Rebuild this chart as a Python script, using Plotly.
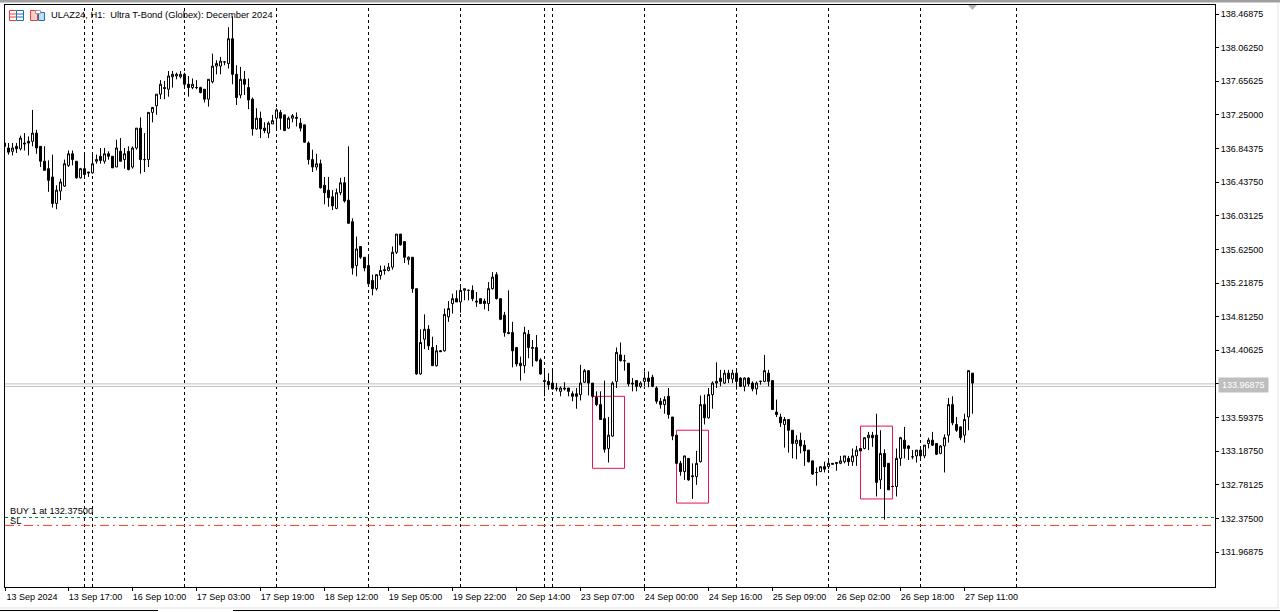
import plotly.graph_objects as go

W, H = 1280, 612
FONT = "Liberation Sans"
FS = 9

opens = [
136.91,136.85,136.81,136.87,136.84,136.91,136.93,136.93,137.03,136.87,
136.69,136.60,136.50,136.18,136.33,136.39,136.64,136.78,136.69,136.49,
136.60,136.56,136.55,136.69,136.75,136.69,136.78,136.75,136.62,136.81,
136.71,136.81,136.62,136.85,137.09,136.71,136.71,137.28,137.36,137.50,
137.58,137.56,137.71,137.72,137.71,137.74,137.62,137.58,137.58,137.58,
137.56,137.44,137.65,137.84,137.84,137.89,137.87,138.17,137.74,137.49,
137.68,137.58,137.44,137.08,137.21,137.09,137.03,137.14,137.21,137.28,
137.25,137.09,137.21,137.22,137.15,137.13,136.91,136.71,136.62,136.66,
136.40,136.34,136.26,136.12,136.31,136.43,136.22,135.96,135.43,135.66,
135.53,135.43,135.25,135.15,135.31,135.38,135.37,135.41,135.59,135.81,
135.72,135.50,135.53,135.15,134.12,134.54,134.66,134.44,134.22,134.40,
134.40,134.81,134.97,135.03,134.99,135.13,135.13,135.13,135.00,135.03,
135.00,134.97,135.15,135.32,135.03,134.83,134.62,134.62,134.44,134.25,
134.22,134.60,134.44,134.44,134.29,134.04,134.03,134.01,133.95,133.91,
133.95,133.95,133.88,133.88,133.87,134.02,134.16,134.01,133.84,133.75,
133.58,133.22,133.37,134.03,134.35,134.28,134.25,134.01,134.04,133.97,
134.03,134.07,134.08,133.95,133.79,133.75,133.85,133.60,133.38,133.04,
132.94,133.10,132.89,132.88,133.06,133.75,133.59,133.87,134.01,134.07,
134.01,134.13,134.06,134.13,134.07,133.97,134.07,134.01,133.94,134.03,
134.03,134.13,134.04,133.66,133.60,133.51,133.57,133.44,133.28,133.32,
133.26,133.20,133.07,132.93,132.94,133.00,133.00,133.04,133.05,133.04,
133.06,133.10,133.06,133.13,133.22,133.22,133.35,133.38,133.38,132.84,
133.16,133.04,132.76,132.76,133.10,133.32,133.25,133.12,133.13,133.20,
133.13,133.28,133.32,133.28,133.16,133.25,133.38,133.75,133.51,133.48,
133.38,133.60,134.13]

closes = [
136.87,136.80,136.85,136.84,136.97,136.90,136.91,137.03,136.85,136.69,
136.58,136.46,136.18,136.34,136.44,136.66,136.78,136.71,136.49,136.60,
136.53,136.55,136.66,136.71,136.70,136.78,136.75,136.61,136.85,136.69,
136.78,136.59,136.85,137.09,136.71,136.71,137.28,137.34,137.50,137.62,
137.57,137.72,137.74,137.74,137.74,137.62,137.58,137.62,137.58,137.52,
137.44,137.68,137.84,137.87,137.90,137.89,138.17,137.74,137.46,137.68,
137.62,137.43,137.08,137.21,137.08,137.06,137.15,137.18,137.31,137.21,
137.06,137.21,137.24,137.21,137.09,136.92,136.71,136.62,136.66,136.37,
136.31,136.25,136.15,136.31,136.43,136.21,135.94,135.40,135.63,135.53,
135.40,135.21,135.15,135.32,135.37,135.37,135.41,135.59,135.81,135.68,
135.53,135.53,135.15,134.12,134.50,134.66,134.46,134.22,134.40,134.39,
134.84,134.91,135.03,134.99,135.13,135.15,135.13,135.03,134.99,134.97,
134.97,135.15,135.29,135.03,134.78,134.62,134.61,134.40,134.24,134.22,
134.62,134.44,134.43,134.28,134.12,134.03,133.99,133.94,133.94,133.95,
133.94,133.91,133.85,133.85,134.01,134.16,134.01,133.85,133.75,133.57,
133.21,133.38,134.01,134.38,134.28,134.28,134.00,134.00,133.97,134.01,
134.07,134.03,133.97,133.79,133.75,133.81,133.63,133.37,133.04,132.94,
133.13,132.84,132.88,133.04,133.75,133.59,133.87,134.01,134.03,134.03,
134.13,134.06,134.13,134.03,133.97,134.07,134.00,133.94,134.01,134.03,
134.16,134.03,133.69,133.63,133.53,133.57,133.44,133.28,133.32,133.25,
133.19,133.06,132.91,132.93,133.00,132.97,133.04,133.03,133.04,133.07,
133.13,133.06,133.13,133.20,133.19,133.35,133.38,133.35,132.81,133.16,
133.00,132.72,132.76,133.10,133.35,133.22,133.22,133.12,133.20,133.13,
133.26,133.32,133.26,133.15,133.25,133.35,133.75,133.53,133.44,133.35,
133.57,134.16,134.01]

highs = [
136.91,136.91,136.91,136.91,137.00,137.03,136.99,137.31,137.07,136.87,
136.87,136.70,136.77,136.40,136.48,136.71,136.82,136.82,136.69,136.61,
136.78,136.56,136.78,136.77,136.85,136.85,136.81,136.75,136.95,136.97,
136.85,136.87,136.87,137.09,137.22,137.03,137.28,137.34,137.50,137.67,
137.66,137.78,137.78,137.76,137.78,137.76,137.72,137.69,137.67,137.59,
137.56,137.68,137.99,137.91,137.95,137.89,138.31,138.44,137.85,137.83,
137.78,137.69,137.46,137.33,137.29,137.16,137.17,137.25,137.33,137.31,
137.25,137.23,137.26,137.28,137.21,137.13,136.93,136.83,136.78,136.71,
136.50,136.50,136.34,136.36,136.49,136.50,136.87,136.00,135.78,135.66,
135.53,135.54,135.32,135.32,135.43,135.43,135.46,135.66,135.81,135.81,
135.72,135.54,135.53,135.15,134.66,134.84,134.71,134.57,134.47,134.41,
134.91,135.00,135.09,135.13,135.17,135.15,135.14,135.19,135.11,135.03,
135.03,135.23,135.35,135.35,135.03,134.87,135.13,134.75,134.44,134.33,
134.69,134.65,134.53,134.59,134.31,134.17,134.13,134.19,134.01,133.97,
134.02,133.95,133.91,133.95,134.23,134.18,134.16,134.01,133.91,133.91,
134.04,133.60,134.03,134.44,134.50,134.35,134.25,134.07,134.04,134.03,
134.15,134.15,134.11,133.97,133.83,133.85,133.95,133.60,133.38,133.07,
133.13,133.10,133.04,133.19,133.86,133.87,133.95,134.03,134.26,134.17,
134.17,134.17,134.17,134.17,134.08,134.08,134.08,134.03,134.03,134.04,
134.35,134.17,134.04,133.81,133.64,133.60,133.57,133.44,133.38,133.41,
133.32,133.20,133.07,132.99,133.00,133.06,133.10,133.04,133.05,133.13,
133.13,133.13,133.22,133.25,133.22,133.35,133.42,133.42,133.64,133.44,
133.21,133.04,132.77,133.22,133.36,133.48,133.26,133.20,133.20,133.22,
133.26,133.35,133.42,133.28,133.26,133.39,133.83,133.85,133.60,133.49,
133.64,134.16,134.13]

lows = [
136.86,136.77,136.76,136.79,136.82,136.82,136.76,136.87,136.78,136.62,
136.58,136.32,136.13,136.11,136.22,136.38,136.62,136.64,136.48,136.48,
136.50,136.50,136.54,136.66,136.66,136.66,136.71,136.61,136.62,136.69,
136.60,136.58,136.60,136.83,136.54,136.56,136.62,137.16,137.25,137.44,
137.44,137.47,137.58,137.68,137.69,137.58,137.47,137.56,137.56,137.51,
137.40,137.35,137.63,137.74,137.74,137.85,137.81,137.62,137.37,137.45,
137.49,137.32,137.00,137.07,136.97,137.03,136.97,137.14,137.09,137.07,
137.06,137.08,137.16,137.11,137.05,136.91,136.65,136.56,136.58,136.36,
136.17,136.14,136.10,136.11,136.28,136.19,135.94,135.32,135.30,135.51,
135.36,135.19,135.07,135.13,135.26,135.32,135.36,135.38,135.57,135.67,
135.46,135.44,135.10,134.11,134.11,134.42,134.41,134.22,134.21,134.39,
134.39,134.75,134.85,134.99,134.86,135.01,135.01,135.00,134.93,134.97,
134.90,134.88,135.14,135.02,134.77,134.57,134.60,134.20,134.21,134.04,
134.13,134.31,134.21,134.27,134.11,133.85,133.93,133.93,133.91,133.85,
133.92,133.85,133.79,133.70,133.80,134.01,133.86,133.83,133.73,133.57,
133.17,133.05,133.36,133.95,134.27,134.16,133.97,133.91,133.91,133.95,
133.97,133.96,133.96,133.76,133.70,133.64,133.58,133.32,133.03,132.89,
132.84,132.83,132.61,132.78,133.05,133.51,133.58,133.70,133.95,133.97,
134.00,134.01,134.01,133.93,133.96,133.91,133.97,133.91,133.87,133.99,
134.02,133.97,133.69,133.60,133.48,133.23,133.17,133.10,133.09,133.16,
133.01,133.05,132.90,132.77,132.94,132.93,132.97,133.03,132.95,133.03,
133.04,133.01,133.01,133.01,133.19,133.21,133.20,133.24,132.64,132.73,
132.36,132.72,132.76,132.64,133.01,133.10,133.08,133.09,133.05,133.10,
133.10,133.22,133.25,133.14,133.15,132.93,133.29,133.50,133.42,133.32,
133.29,133.44,133.64]

bars = list(range(1, len(opens) + 1))

date_bars = [1.125, 17, 33, 49, 65, 81, 97, 113, 129, 145, 161, 177, 193, 209, 225, 241]
date_labels = ["13 Sep 2024", "13 Sep 17:00", "16 Sep 10:00", "17 Sep 03:00",
               "17 Sep 19:00", "18 Sep 12:00", "19 Sep 05:00", "19 Sep 22:00",
               "20 Sep 14:00", "23 Sep 07:00", "24 Sep 00:00", "24 Sep 16:00",
               "25 Sep 09:00", "26 Sep 02:00", "26 Sep 18:00", "27 Sep 11:00"]

price_ticks = [138.46875, 138.0625, 137.65625, 137.25, 136.84375, 136.4375, 136.03125,
               135.625, 135.21875, 134.8125, 134.40625, 134.0, 133.59375, 133.1875,
               132.78125, 132.375, 131.96875]
price_labels = ["138.46875", "138.06250", "137.65625", "137.25000", "136.84375", "136.43750",
                "136.03125", "135.62500", "135.21875", "134.81250", "134.40625", "",
                "133.59375", "133.18750", "132.78125", "132.37500", "131.96875"]

separator_bars = [21, 23, 46, 69, 92, 115, 136, 138, 161, 184, 207, 230, 254]
box_x0 = [148, 169, 215]
box_x1 = [156, 177, 223]
box_top = [133.85, 133.44, 133.49]
box_bottom = [132.98, 132.56, 132.61]
bid, ask = 133.96875, 134.0
buy_level, sl_level = 132.385, 132.29

def X(p): return p / W
def Y(p): return 1 - p / H

def rect(x0, y0, x1, y1, line=None, fill=None, layer="above"):
    return dict(type="rect", xref="paper", yref="paper", x0=X(x0), x1=X(x1), y0=Y(y0), y1=Y(y1),
                line=dict(color=line, width=1) if line else dict(width=0),
                fillcolor=fill or "rgba(0,0,0,0)", layer=layer)

shapes = []
for v in separator_bars:
    shapes.append(dict(type="line", xref="x", yref="y domain", x0=v, x1=v, y0=0, y1=1,
                       line=dict(color="black", width=1, dash="3px,3px"), layer="below"))
for p in (ask, bid):
    shapes.append(dict(type="line", xref="x domain", yref="y", x0=0, x1=1, y0=p, y1=p,
                       line=dict(color="#C0C0C0", width=1), layer="below"))
shapes.append(dict(type="line", xref="x domain", yref="y", x0=0, x1=1, y0=buy_level, y1=buy_level,
                   line=dict(color="#0A7A32", width=1, dash="3px,3px"), layer="below"))
shapes.append(dict(type="line", xref="x domain", yref="y", x0=0, x1=1, y0=sl_level, y1=sl_level,
                   line=dict(color="#F0401E", width=1, dash="9px,4px,2px,4px"), layer="below"))
for a, b, t, u in zip(box_x0, box_x1, box_top, box_bottom):
    shapes.append(dict(type="rect", xref="x", yref="y", x0=a, x1=b, y0=u, y1=t,
                       line=dict(color="#E6144B", width=1), layer="below"))

# window chrome
shapes += [
    rect(0, 0, 1280, 2.5, fill="#A0A0A0"),
    rect(0, 607.5, 1278.5, 608.5, fill="#E4E4E4"),
    rect(1277.5, 2.5, 1278.5, 608, fill="#E4E4E4"),
    rect(0, 610, 158, 611, fill="#000000"),
    rect(233, 610, 1280, 611, fill="#000000"),
    dict(type="path", xref="paper", yref="paper",
         path=f"M{X(968)},{Y(5)} L{X(977)},{Y(5)} L{X(972.5)},{Y(10)} Z",
         fillcolor="#B4B4B4", line=dict(width=0)),
    # chart icons
    rect(9.5, 10.5, 16.5, 20.5, line="#E8403C", fill="#FFFFFF"),
    rect(16.5, 10.5, 23.5, 20.5, line="#1C70B8", fill="#FFFFFF"),
    rect(9.5, 13.5, 16.5, 14.5, fill="#E8403C"),
    rect(9.5, 16.5, 16.5, 17.5, fill="#E8403C"),
    rect(16.5, 13.5, 23.5, 14.5, fill="#1C70B8"),
    rect(16.5, 16.5, 23.5, 17.5, fill="#1C70B8"),
    rect(30.5, 10.5, 37.5, 20.5, line="#E8403C", fill="#FBD0CC"),
    rect(38.5, 12.5, 44.5, 20.5, line="#1C70B8", fill="#BFE0F4"),
    rect(35.5, 10.5, 40.5, 13.5, line="#9A9A9A", fill="#FFFFFF"),
]

annotations = [
    dict(x=X(49.5), y=Y(15), xref="paper", yref="paper", xanchor="left", yanchor="middle",
         text="ULAZ24, H1:\u00a0 Ultra T-Bond (Globex): December 2024", showarrow=False,
         font=dict(family=FONT, size=9.35, color="black"), borderpad=0),
    dict(x=X(8.5), y=Y(511), xref="paper", yref="paper", xanchor="left", yanchor="middle",
         text="BUY 1 at 132.37500", showarrow=False,
         font=dict(family=FONT, size=9.25, color="black"), borderpad=0),
    dict(x=X(8.5), y=Y(521), xref="paper", yref="paper", xanchor="left", yanchor="middle",
         text="SL", showarrow=False,
         font=dict(family=FONT, size=9.25, color="black"), borderpad=0),
    dict(x=X(1218.3), y=Y(385), xref="paper", yref="paper", xanchor="left", yanchor="middle",
         text="133.96875", showarrow=False, bgcolor="#BEBEBE", borderpad=2, width=44.5, height=10,
         font=dict(family=FONT, size=FS, color="white")),
]

fig = go.Figure(go.Candlestick(
    x=bars, open=opens, high=highs, low=lows, close=closes,
    increasing=dict(line=dict(color="black", width=1), fillcolor="white"),
    decreasing=dict(line=dict(color="black", width=1), fillcolor="black"),
    whiskerwidth=0, hoverinfo="skip", showlegend=False))

fig.update_layout(
    width=W, height=H, autosize=False,
    margin=dict(l=0, r=0, t=0, b=0, pad=0),
    paper_bgcolor="white", plot_bgcolor="white", showlegend=False,
    boxgap=0, boxgroupgap=0.5,
    shapes=shapes, annotations=annotations,
    font=dict(family=FONT, size=FS, color="black"),
    xaxis=dict(
        domain=[X(5), X(1215)], range=[1.125, 303.625], rangeslider=dict(visible=False),
        showgrid=False, zeroline=False, showline=True, mirror=True, linecolor="black", linewidth=1,
        tickmode="array", tickvals=date_bars, ticktext=date_labels, ticks="outside", ticklen=3,
        tickcolor="black", tickwidth=1, ticklabelshift=27, ticklabelstandoff=-2,
        tickfont=dict(family=FONT, size=FS, color="black"), tickangle=0),
    yaxis=dict(
        domain=[Y(587), Y(5)], range=[138.638 - 587 / 82.77, 138.638 - 5 / 82.77],
        side="right", showgrid=False, zeroline=False, showline=True, mirror=True,
        linecolor="black", linewidth=1, tickmode="array", tickvals=price_ticks, ticktext=price_labels,
        ticks="outside", ticklen=3, tickcolor="black", tickwidth=1,
        tickfont=dict(family=FONT, size=FS, color="black")),
)

fig.write_html("out.html", config=dict(displayModeBar=False, responsive=False),
               post_script="document.body.style.margin='0';document.body.style.overflow='hidden';")
